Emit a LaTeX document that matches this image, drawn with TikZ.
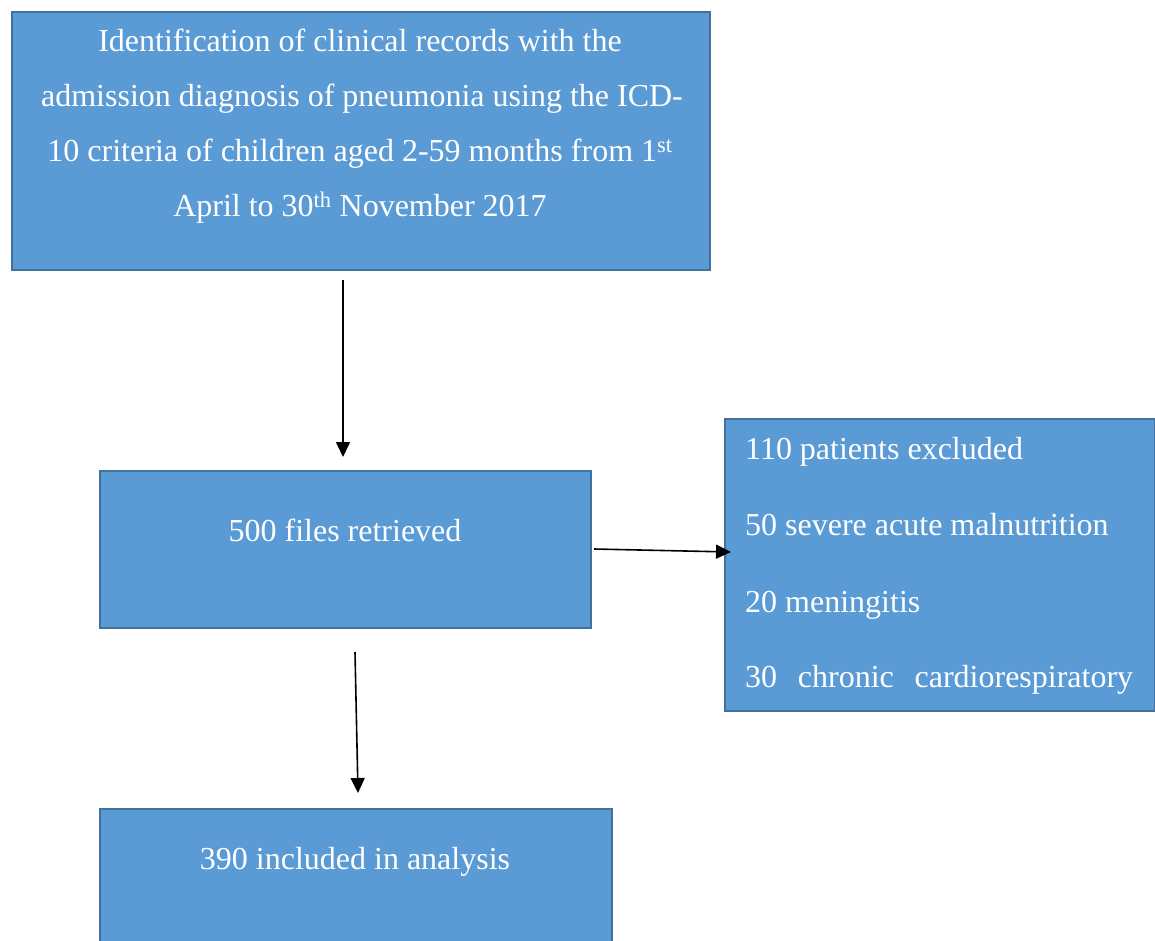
\documentclass[tikz,border=0pt]{standalone}
\usepackage{fontspec}
\setmainfont{Liberation Serif}
\usetikzlibrary{arrows.meta}
\definecolor{boxfill}{HTML}{5B9BD5}
\definecolor{boxline}{HTML}{41719C}
\begin{document}
\begin{tikzpicture}[x=1pt,y=-1pt,
  box/.style={draw=boxline, fill=boxfill, line width=2pt, anchor=north west, inner sep=0pt},
  txt/.style={text=white, inner sep=0pt, anchor=base, font=\fontsize{32}{40}\selectfont},
  ltxt/.style={txt, anchor=base west},
  conn/.style={line width=1.6pt, -{Triangle[length=15pt,width=14pt]}}]
\useasboundingbox (0,0) rectangle (1155,941);
\clip (0,0) rectangle (1155,941);
% boxes
\node[box, minimum width=698pt, minimum height=258pt] (b1) at (11,11) {};
\node[box, minimum width=491pt, minimum height=157pt] (b2) at (99,470) {};
\node[box, minimum width=430pt, minimum height=292pt] (b3) at (724,418) {};
\node[box, minimum width=512pt, minimum height=160pt] (b4) at (99,808) {};
% box 1 text
\node[txt] (t1a) at (360,52) {Identification of clinical records with the};
\node[txt] (t1b) at (362,107) {admission diagnosis of pneumonia using the ICD-};
\node[txt] (t1c) at (360,162) {10 criteria of children aged 2-59 months from 1\textsuperscript{st}};
\node[txt] (t1d) at (360,217) {April to 30\textsuperscript{th} November 2017};
% box 2 text
\node[txt] (t2) at (345,541) {500 files retrieved};
% box 3 text
\node[ltxt] (t3a) at (745,459) {110 patients excluded};
\node[ltxt] (t3b) at (745,535) {50 severe acute malnutrition};
\node[ltxt] (t3c) at (745,612) {20 meningitis};
\node[ltxt] (t3d) at (745,687) {\makebox[388pt][s]{30 chronic cardiorespiratory}};
% box 4 text
\node[txt] (t4) at (355,869) {390 included in analysis};
% connector end points
\coordinate (a1s) at (343,280);
\coordinate (a1e) at (343,457);
\coordinate (a2s) at (594,549);
\coordinate (a2e) at (731,552);
\coordinate (a3s) at (355,652);
\coordinate (a3e) at (358,793);
\draw[conn] (a1s) -- (a1e);
\draw[conn] (a2s) -- (a2e);
\draw[conn] (a3s) -- (a3e);
\end{tikzpicture}
\end{document}
